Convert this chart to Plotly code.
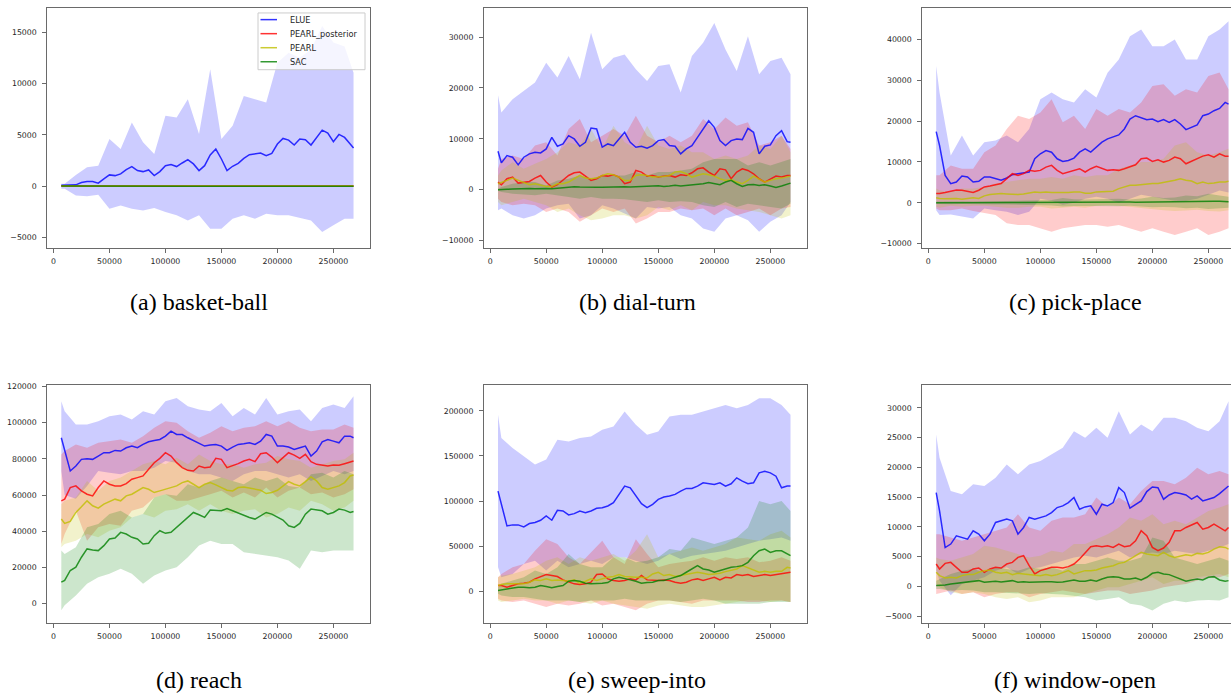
import plotly.graph_objects as go

W, H = 1231, 693

# ---------------------------------------------------------------- x grids
X_MEAN = [7000, 10000, 15000, 20000, 25000, 30000, 35000, 40000, 45000, 50000,
          55000, 60000, 65000, 70000, 75000, 80000, 85000, 90000, 95000, 100000,
          105000, 110000, 115000, 120000, 125000, 130000, 135000, 140000, 145000, 150000,
          155000, 160000, 165000, 170000, 175000, 180000, 185000, 190000, 195000, 200000,
          205000, 210000, 215000, 220000, 225000, 230000, 235000, 240000, 245000, 250000,
          255000, 260000, 265000, 268000]
X_BAND = [7000, 10000, 20000, 30000, 40000, 50000, 60000,
          70000, 80000, 90000, 100000, 110000, 120000, 130000,
          140000, 150000, 160000, 170000, 180000, 190000, 200000,
          210000, 220000, 230000, 240000, 250000, 260000, 268000]

X_TICKS = [0, 50000, 100000, 150000, 200000, 250000]

# ---------------------------------------------------------------- (a) basket-ball
A_ELUE = [100, 100, 60, 130, 360, 450, 450, 290, 710, 1100,
          1030, 1200, 1620, 1910, 1520, 1420, 1580, 1030, 1420, 2000,
          2100, 1910, 2260, 2590, 2170, 1520, 2000, 3040, 3620, 2650,
          1520, 1940, 2230, 2710, 3070, 3130, 3230, 2970, 3200, 4100,
          4650, 4490, 4010, 4590, 4520, 4010, 4750, 5460, 5170, 4330,
          5040, 4750, 4100, 3720]
A_ELUE_HI = [230, 230, 1100, 1840, 2000, 4590, 3620, 6200, 4270, 3130, 6850, 6690, 8470, 5070,
             11380, 4590, 5880, 8790, 8470, 8150, 12020, 13000, 12500, 13300, 15600, 14000, 13600, 11050]
A_ELUE_LO = [-260, -260, -900, -970, -840, -2200, -1870, -2200, -2360, -2130, -2520, -2840, -3330, -2840,
             -4140, -4140, -3170, -2840, -3170, -2680, -2840, -2840, -3100, -3330, -4460, -3810, -3170, -3170]
A_POST = [30, 25, 20, 15, 20, 10, 15, 20, 10, 15, 20, 15, 10, 20,
          15, 10, 15, 20, 15, 10, 20, 15, 10, 15, 20, 15, 10, 15]
A_POST_HI = [110, 100, 90, 85, 95, 80, 90, 95, 85, 90, 100, 90, 85, 95,
             90, 80, 90, 95, 90, 85, 95, 90, 85, 90, 95, 90, 85, 90]
A_POST_LO = [-50, -55, -60, -55, -50, -60, -55, -50, -60, -55, -50, -55, -60, -50,
             -55, -60, -55, -50, -55, -60, -50, -55, -60, -55, -50, -55, -60, -55]
A_PEARL = [20, 15, 10, 12, 8, 10, 14, 9, 11, 10, 12, 8, 10, 13,
           9, 10, 12, 11, 9, 10, 8, 12, 10, 9, 11, 10, 12, 10]
A_PEARL_HI = [70, 65, 60, 62, 58, 60, 64, 59, 61, 60, 62, 58, 60, 63,
              59, 60, 62, 61, 59, 60, 58, 62, 60, 59, 61, 60, 62, 60]
A_PEARL_LO = [-30, -35, -40, -38, -42, -40, -36, -41, -39, -40, -38, -42, -40, -37,
              -41, -40, -38, -39, -41, -40, -42, -38, -40, -41, -39, -40, -38, -40]
A_SAC = [10, 8, 6, 5, 7, 6, 5, 8, 6, 5, 7, 6, 5, 6,
         7, 5, 6, 8, 6, 5, 6, 7, 5, 6, 5, 7, 6, 5]
A_SAC_HI = [60, 58, 56, 55, 57, 56, 55, 58, 56, 55, 57, 56, 55, 56,
            57, 55, 56, 58, 56, 55, 56, 57, 55, 56, 55, 57, 56, 55]
A_SAC_LO = [-40, -42, -44, -45, -43, -44, -45, -42, -44, -45, -43, -44, -45, -44,
            -43, -45, -44, -42, -44, -45, -44, -43, -45, -44, -45, -43, -44, -45]

# ---------------------------------------------------------------- (b) dial-turn
B_ELUE = [7560, 5280, 6700, 6390, 4890, 6390, 7040, 7370, 7240, 8020,
          10300, 8540, 9000, 10630, 9980, 8540, 9320, 12130, 11930, 8350,
          9000, 8670, 9980, 11280, 9320, 8350, 8540, 8150, 8670, 9650,
          9850, 8670, 8540, 7040, 8020, 8670, 10300, 12060, 13560, 12260,
          9650, 8670, 9650, 9980, 9850, 12060, 11280, 7040, 8540, 8800,
          10630, 11600, 9450, 9320]
B_POST = [1500, 980, 2150, 2480, 1300, 1500, 1630, 2280, 2800, 1500,
          520, 980, 1830, 2800, 3330, 3460, 2670, 1830, 2150, 2800,
          2670, 2930, 2480, 1170, 1500, 3780, 3460, 2670, 2800, 2480,
          2670, 2800, 2480, 2930, 2800, 3330, 4110, 4300, 3460, 2800,
          4110, 3910, 2150, 3460, 4110, 3780, 3130, 2150, 1500, 2150,
          2670, 2480, 2800, 2800]
B_PEARL = [1170, 1370, 1830, 2280, 1830, 1500, 980, 1170, 980, 650,
           650, 1170, 1170, 1500, 2150, 2800, 2280, 2150, 2280, 2800,
           3130, 2930, 2480, 1830, 1830, 2800, 2930, 2800, 2480, 2480,
           2610, 2800, 3460, 3590, 3130, 2480, 2800, 3130, 2930, 2670,
           2150, 1830, 2020, 1500, 1170, 1830, 2670, 2150, 1500, 1830,
           2150, 2280, 2480, 2670]
B_SAC = [0, 70, 70, 130, 200, 200, 260, 200, 260, 260,
         200, 330, 390, 520, 590, 520, 460, 390, 460, 460,
         520, 460, 520, 590, 520, 590, 720, 650, 720, 780,
         650, 720, 850, 720, 850, 910, 980, 1170, 1430, 1170,
         980, 1500, 1830, 1170, 650, 980, 1040, 850, 980, 720,
         460, 720, 1170, 1300]
B_ELUE_HI = [18580, 15190, 17800, 19430, 21060, 24970, 22040, 26280, 21710, 30840, 23670, 25950, 26600, 23670,
             21390, 24320, 24650, 19100, 26280, 28880, 32800, 27580, 23340, 30190, 22690, 25300, 25950, 22690]
B_ELUE_LO = [-4040, -3720, -5020, -5670, -5020, -3720, -3060, -2740, -5670, -5020, -3060, -3720, -4690, -5670,
             -3390, -3720, -3390, -5020, -5670, -7630, -8280, -5670, -5020, -6000, -8280, -6320, -5020, -2410]
B_POST_HI = [4110, 6060, 6720, 6060, 8670, 9320, 6720, 11930, 13890, 9320, 10630, 11930, 10630, 14540,
             10630, 9320, 10630, 9320, 10630, 13890, 11930, 14210, 12580, 13240, 8670, 9320, 10630, 8020]
B_POST_LO = [-1760, -2410, -3060, -2740, -3060, -4370, -3720, -4370, -6320, -5020, -3720, -4370, -3720, -6650,
             -5670, -4370, -4370, -3720, -4040, -3720, -5020, -3720, -5020, -4370, -3720, -5020, -3720, -3390]
B_PEARL_HI = [2800, 3780, 5410, 4110, 5090, 6060, 7370, 9320, 8670, 11930, 8020, 12580, 9320, 8020,
              12580, 8670, 8020, 8670, 7370, 7370, 6060, 6720, 6060, 6720, 8670, 8020, 10630, 7370]
B_PEARL_LO = [-2410, -3060, -2410, -1760, -2410, -3060, -4370, -3720, -5020, -6000, -5670, -5020, -5020, -5670,
              -5020, -3390, -4040, -3060, -4040, -2410, -3060, -3060, -3720, -4040, -4370, -5020, -5670, -5020]
B_SAC_HI = [200, 520, 1170, 1500, 1500, 850, 1830, 2150, 2800, 2150, 2800, 2800, 2800, 3460,
            2800, 3460, 3460, 3780, 4110, 5410, 6060, 6060, 6060, 4760, 5410, 4760, 5410, 6060]
B_SAC_LO = [-200, -460, -780, -980, -1110, -780, -1110, -1430, -1760, -1430, -1760, -1760, -1890, -2090,
            -2410, -2090, -2410, -2280, -2410, -3060, -3390, -2410, -3390, -2740, -3060, -3390, -3720, -2740]

# ---------------------------------------------------------------- (c) pick-place
C_ELUE = [17450, 14040, 6730, 4710, 5110, 6570, 6330, 5110, 5270, 6330,
          6330, 5920, 5520, 6090, 6900, 7140, 7380, 7550, 10790, 12010,
          12820, 12410, 10790, 10140, 10390, 10950, 12410, 13230, 12410, 13630,
          14850, 15660, 16230, 16630, 18090, 20530, 21340, 20930, 20370, 20530,
          19880, 20370, 19720, 20370, 19310, 17930, 18500, 19070, 21340, 21750,
          22560, 23120, 24590, 24180]
C_POST = [2270, 2270, 2520, 2840, 3160, 3080, 2840, 2520, 3080, 3890,
          4140, 4460, 4710, 5920, 7140, 6730, 7140, 7950, 7710, 7950,
          8760, 9170, 7950, 7140, 7550, 7950, 8360, 7550, 8360, 8930,
          8360, 7950, 8110, 7950, 8360, 8760, 9330, 10790, 10950, 10140,
          10550, 9980, 10390, 11200, 10790, 9570, 10140, 10790, 11440, 11770,
          11200, 12010, 11440, 11440]
C_PEARL = [1220, 1050, 970, 1050, 1050, 890, 1050, 1220, 1050, 1700,
           2030, 2190, 2270, 2190, 2030, 2030, 2190, 2520, 2680, 2520,
           2680, 2520, 2520, 2350, 2520, 2680, 2680, 2350, 2350, 2680,
           2680, 2680, 2840, 3490, 3890, 4300, 4300, 4460, 4710, 4710,
           4710, 4950, 5110, 5520, 5920, 5520, 5360, 4710, 5110, 4710,
           4870, 5110, 5110, 5270]
C_SAC = [0, 10, 20, 15, 25, 30, 20, 35, 40, 30,
         45, 50, 40, 55, 60, 50, 65, 70, 60, 75,
         80, 70, 90, 100, 85, 110, 120, 100, 130, 140,
         120, 150, 160, 140, 170, 180, 160, 190, 210, 230,
         200, 240, 260, 280, 300, 320, 350, 380, 420, 450,
         410, 360, 300, 260]
C_ELUE_HI = [33510, 27020, 11600, 16470, 11600, 14850, 15250, 16470, 14850, 18090, 25400, 27020, 25400, 24590,
             27830, 25800, 31890, 35130, 40810, 42440, 38380, 38380, 40000, 35130, 35130, 40810, 42440, 44460]
C_ELUE_LO = [-1790, -3000, -2840, -3410, -3810, -1380, -1790, -2190, -3000, -2190, 1000, 500, -500, 0,
             1000, 1500, 1000, 0, 1000, 2000, 1500, 1000, 500, 500, 1000, 2000, 3000, 2500]
C_POST_HI = [6730, 6730, 9170, 8360, 8360, 12410, 14040, 18090, 21300, 20530, 22150, 25400, 19720, 21340,
             18090, 22960, 21340, 22960, 22150, 24590, 28640, 29050, 26210, 27830, 27020, 31080, 31900, 27830]
C_POST_LO = [-1380, -1790, -1790, -1380, -2030, -2600, -3000, -5030, -5440, -5440, -6250, -7060, -6250, -5840,
             -5440, -5440, -5840, -5440, -6250, -7060, -6250, -7060, -7870, -7060, -6250, -7870, -7060, -6250]
C_PEARL_HI = [3490, 3080, 2680, 3490, 3490, 3890, 4710, 5110, 5520, 5920, 5920, 6330, 5920, 6730,
              6330, 6730, 6730, 8360, 9170, 9980, 9980, 10790, 14040, 14850, 12410, 11600, 12410, 13230]
C_PEARL_LO = [-970, -1220, -730, -970, -730, -730, -970, -1220, -1220, -970, -970, -1380, -1220, -970,
              -1220, -730, -570, -730, -900, -1200, -1500, -1800, -2000, -1900, -1700, -2000, -2100, -1800]
C_SAC_HI = [300, 320, 280, 310, 290, 330, 400, 420, 500, 480, 600, 700, 1200, 900,
            800, 850, 900, 1000, 800, 1050, 1500, 1200, 1300, 1800, 1600, 2200, 1800, 1500]
C_SAC_LO = [-300, -280, -320, -290, -310, -300, -380, -400, -450, -500, -550, -650, -900, -800,
            -750, -700, -800, -850, -700, -900, -1100, -1000, -1100, -1300, -1200, -1500, -1400, -1200]

# ---------------------------------------------------------------- (d) reach
D_ELUE = [91600, 84270, 73280, 76030, 79690, 80060, 79690, 81520, 83360, 83360,
          84640, 84270, 86100, 87020, 86100, 87940, 89400, 90130, 90680, 92520,
          95260, 93430, 93430, 91600, 90130, 88850, 87020, 87570, 87940, 87020,
          84640, 86470, 87940, 88300, 88850, 87940, 89770, 93430, 92520, 87020,
          87020, 86470, 85190, 86100, 87020, 81520, 84270, 89400, 90680, 89770,
          88850, 92520, 92520, 91600]
D_POST = [56790, 57710, 64120, 65040, 62290, 60460, 59540, 64120, 67780, 65950,
          65040, 65040, 66320, 68700, 69620, 70530, 74190, 77860, 80240, 83360,
          81520, 77860, 75110, 73640, 73280, 76030, 75110, 75480, 80240, 79690,
          75110, 76030, 77310, 78770, 79690, 78410, 82810, 83360, 80970, 77860,
          80610, 83360, 82070, 80240, 82440, 78410, 76940, 76580, 76030, 76580,
          76390, 77310, 78410, 78770]
D_PEARL = [46720, 44330, 45430, 50380, 53490, 56790, 54040, 52760, 54960, 56430,
           57710, 56790, 59540, 60460, 62290, 64120, 63200, 61370, 62290, 63200,
           64120, 65040, 66870, 67780, 65950, 64120, 65950, 66870, 65590, 64120,
           62650, 62290, 64120, 64480, 63760, 63200, 62650, 60820, 61370, 62650,
           65040, 67420, 65950, 65040, 67420, 69980, 67780, 64120, 63200, 64120,
           65040, 66870, 70530, 71080]
D_SAC = [11910, 12820, 18320, 20150, 25650, 30230, 29680, 29310, 32060, 35720,
         36270, 39390, 38470, 36640, 35720, 32980, 33340, 37560, 40300, 38840,
         39390, 42140, 44880, 47630, 50380, 49100, 47630, 51660, 51660, 51300,
         52580, 51300, 49830, 48550, 47630, 46720, 48550, 50380, 49460, 47630,
         46170, 43050, 42140, 44330, 49460, 52210, 51660, 51300, 49460, 50380,
         52210, 51660, 50380, 50930]
D_ELUE_HI = [111750, 106260, 98930, 98930, 100760, 103510, 104420, 101680, 106260, 104420, 111750, 113580, 109000, 107170,
             106260, 110830, 103510, 108090, 104420, 113580, 104420, 106260, 107170, 100760, 108090, 109920, 108090, 114500]
D_ELUE_LO = [73280, 60000, 58000, 65000, 73280, 72360, 71450, 73280, 73280, 75110, 78770, 77860, 73280, 71450,
             71450, 69620, 67780, 71450, 73280, 73280, 71450, 69620, 71450, 67780, 70530, 73280, 71450, 73280]
D_POST_HI = [82440, 84270, 87940, 86100, 88850, 89770, 90680, 88850, 92520, 97100, 100760, 99850, 95260, 91600,
             94350, 98010, 95260, 97100, 98010, 100760, 98010, 100760, 97100, 95260, 96180, 96180, 98930, 97100]
D_POST_LO = [32980, 38470, 51300, 34810, 42140, 43970, 43050, 51300, 53130, 58620, 60460, 56790, 56790, 58620,
             60460, 62290, 58620, 61370, 58620, 64120, 58620, 62290, 64120, 60460, 61370, 58620, 60460, 63200]
D_PEARL_HI = [54960, 56790, 58620, 67780, 62290, 67780, 69620, 73280, 76940, 78770, 76940, 80610, 76940, 82440,
              78770, 76940, 76940, 75110, 76940, 77860, 81520, 79690, 78770, 75110, 76940, 78770, 79690, 83360]
D_PEARL_LO = [31140, 32980, 34810, 38470, 36640, 40300, 42140, 47630, 49460, 47630, 51300, 52210, 54960, 51300,
              54960, 51300, 49460, 51300, 52210, 47630, 49460, 53130, 51300, 56790, 54960, 51300, 53130, 56790]
D_SAC_HI = [29310, 27480, 31140, 42140, 43970, 49460, 51300, 47630, 49460, 58620, 60460, 59540, 65950, 64120,
            67780, 69620, 67780, 65950, 69620, 67780, 69620, 65040, 64120, 71450, 72360, 69620, 73280, 71450]
D_SAC_LO = [-3660, -920, 4580, 10990, 14660, 16490, 19240, 16490, 10990, 15570, 18320, 20150, 25650, 32060,
            34810, 32980, 32980, 28400, 27480, 26560, 25650, 23820, 19240, 29310, 28400, 29310, 29310, 29310]

# ---------------------------------------------------------------- (e) sweep-into
E_ELUE = [111020, 96310, 72420, 73520, 73520, 71310, 74990, 76090, 78670, 83450,
          78670, 89690, 88960, 84550, 86020, 88960, 87120, 88960, 91900, 92630,
          94470, 98150, 107340, 116530, 114690, 105500, 97050, 92630, 96310, 101820,
          104400, 105500, 107340, 111020, 113960, 113960, 116530, 120210, 119100, 118370,
          120210, 116530, 119100, 125720, 122040, 119100, 120210, 131230, 133070, 131230,
          127560, 114690, 116530, 116530]
E_POST = [6250, 6250, 4410, 6250, 8090, 8820, 9930, 13600, 16170, 18380,
          17280, 16170, 12500, 9930, 8090, 7350, 8090, 9930, 18380, 19120,
          13600, 11760, 11030, 11760, 13600, 12500, 17280, 12500, 11760, 11760,
          12500, 11760, 9930, 8820, 9930, 12500, 13600, 11760, 13600, 15440,
          12500, 15440, 14700, 18380, 17280, 18380, 16170, 17280, 18380, 17280,
          18380, 19120, 20950, 20950]
E_PEARL = [6250, 7350, 8090, 8090, 8820, 8090, 9930, 12500, 11760, 13600,
           11760, 12500, 11760, 11030, 12500, 8820, 11030, 13600, 11760, 13600,
           15440, 16170, 18380, 16170, 15440, 15440, 15440, 14700, 19120, 20950,
           17280, 18380, 16170, 17280, 18380, 19850, 20950, 19850, 18380, 19120,
           19850, 21690, 22790, 24630, 28310, 25730, 22790, 20950, 22060, 20950,
           22060, 22060, 26470, 25730]
E_SAC = [740, 1470, 2570, 3680, 4410, 4410, 3680, 4410, 6250, 5150,
         3680, 5150, 6250, 11030, 11760, 11030, 8820, 8090, 8090, 8820,
         9560, 13600, 15440, 13600, 12500, 11030, 8820, 9560, 9930, 11760,
         11760, 13600, 15440, 17280, 20950, 24630, 28310, 24630, 23530, 20950,
         22790, 24630, 26470, 27200, 28310, 31980, 39330, 44850, 46690, 43010,
         44850, 44850, 41170, 39330]
E_ELUE_HI = [195560, 169830, 158800, 149610, 140420, 145940, 167990, 166150, 169830, 171670, 179020, 182700, 199240, 184530,
             173510, 177180, 193720, 195560, 195560, 199240, 202920, 206590, 202920, 206590, 213940, 213940, 206590, 195560]
E_ELUE_LO = [26470, 15440, 19120, 30140, 33820, 22790, 33820, 26470, 30140, 33820, 30140, 37500, 37500, 33820,
             30140, 33820, 41170, 35660, 39330, 41170, 43010, 44850, 48520, 52200, 55880, 57710, 59550, 55880]
E_POST_HI = [15440, 19120, 26470, 30140, 44850, 57710, 52200, 37500, 30140, 43010, 55880, 37500, 30140, 57710,
             41170, 26470, 30140, 31980, 33820, 37500, 33820, 37500, 35660, 37500, 31980, 33820, 37500, 33820]
E_POST_LO = [-8450, -10290, -12130, -10290, -13970, -17640, -13970, -15810, -13970, -10290, -15810, -13970, -17640, -21320,
             -13970, -10290, -10290, -12130, -13970, -10290, -9560, -10290, -10290, -12130, -12130, -10290, -10290, -12130]
E_PEARL_HI = [15440, 17280, 19120, 22790, 26470, 33820, 37500, 30140, 37500, 33820, 37500, 41170, 33820, 44850,
              63230, 37500, 41170, 44850, 48520, 44850, 48520, 52200, 59550, 57710, 55880, 63230, 66900, 59550]
E_PEARL_LO = [-10290, -12130, -10290, -8450, -10290, -10290, -13970, -10290, -12130, -13970, -10290, -13970, -15810, -17640,
              -19480, -15810, -13970, -15810, -17640, -17640, -15810, -13970, -12130, -10290, -10290, -12130, -10290, -12130]
E_SAC_HI = [4410, 8090, 11760, 15440, 22790, 19120, 26470, 41170, 30140, 26470, 26470, 37500, 37500, 31980,
            33820, 37500, 46690, 44850, 59550, 55880, 52200, 55880, 59550, 70580, 99990, 96310, 99990, 88960]
E_SAC_LO = [-2940, -4780, -6620, -6620, -8450, -10290, -10290, -10290, -12130, -10290, -10290, -10290, -8450, -10290,
            -10290, -10290, -10290, -12130, -10290, -8450, -10290, -13970, -13970, -13970, -13970, -12130, -12130, -12130]

# ---------------------------------------------------------------- (f) window-open
F_ELUE = [15760, 12680, 6500, 7100, 8490, 8210, 7930, 9330, 8770, 7650,
          8770, 10730, 11010, 11290, 11010, 8770, 9890, 11570, 11290, 11570,
          11840, 12400, 13240, 13520, 14080, 14920, 12960, 13350, 13520, 12120,
          13800, 13520, 14080, 16590, 15760, 13130, 13800, 14360, 15920, 16700,
          16590, 14640, 15360, 15760, 15590, 15360, 14640, 15200, 14360, 14640,
          14920, 15590, 16310, 16870]
F_POST = [3740, 2910, 3850, 4020, 3180, 2350, 2350, 2910, 3070, 2350,
          2910, 3180, 3070, 3740, 4020, 4860, 5140, 3460, 2070, 2630,
          2910, 3180, 3180, 3070, 3300, 3740, 4580, 5700, 6650, 6820,
          6650, 6820, 6540, 7100, 6650, 6820, 7650, 9330, 8490, 6540,
          5980, 6430, 7380, 9330, 9330, 9890, 10340, 10730, 9610, 9890,
          10450, 9890, 9330, 9890]
F_PEARL = [2350, 1790, 1400, 1510, 1400, 1790, 1960, 1960, 2350, 2630,
           2740, 2350, 2180, 2350, 1960, 2180, 2070, 1960, 1790, 1790,
           1960, 1790, 1960, 2350, 2630, 2070, 2350, 2630, 2630, 2740,
           3070, 3300, 3460, 3850, 4020, 4580, 5140, 5700, 5420, 5310,
           5140, 5700, 5140, 4860, 5140, 5310, 5140, 5530, 5420, 5700,
           6260, 6650, 6540, 6260]
F_SAC = [110, 110, 220, 390, 500, 670, 840, 950, 950, 670,
         780, 840, 730, 840, 950, 670, 780, 670, 730, 780,
         780, 780, 670, 730, 950, 1060, 840, 840, 1060, 840,
         1230, 1510, 1620, 1510, 1230, 1230, 1400, 1060, 1510, 2180,
         2350, 2070, 1960, 1620, 1230, 840, 1060, 1230, 1060, 1510,
         1620, 1060, 840, 950]
F_ELUE_HI = [25530, 21620, 16030, 15480, 17150, 16870, 18270, 20500, 18830, 20500, 21060, 22180, 23300, 26090,
             24970, 26650, 24970, 29440, 25530, 27210, 26090, 28330, 28330, 27770, 26650, 26090, 27770, 31120]
F_ELUE_LO = [2630, 950, -1500, 390, 950, 1510, 2630, 3180, 2070, 2910, 3180, 3740, 4300, 4860,
             5140, 4860, 5420, 5980, 4860, 5420, 5700, 5420, 5980, 5700, 5420, 5980, 6540, 7100]
F_POST_HI = [8770, 8770, 8210, 7650, 8210, 8770, 9330, 9890, 12120, 9890, 9330, 11010, 11570, 11570,
             12120, 14920, 13240, 14920, 13800, 16030, 17710, 17710, 17150, 18270, 19950, 18830, 19390, 18830]
F_POST_LO = [-1290, -1170, -730, -1290, -1010, -1840, -1290, -1010, -1010, -1840, -1290, -1010, -730, -1010,
             -1290, -1010, -730, -730, -1290, -1010, -730, -170, 110, 390, 950, 1510, 1510, 2070]
F_PEARL_HI = [4860, 4580, 4300, 4860, 5420, 6820, 6540, 5980, 5420, 4860, 5140, 5980, 5700, 7100,
              7100, 7930, 8770, 9890, 11570, 11010, 12120, 10450, 11010, 10450, 11570, 12680, 13240, 13800]
F_PEARL_LO = [390, -170, -1010, -1290, -1010, -1290, -1840, -2120, -1840, -2680, -2400, -1840, -1840, -1840,
              -1290, -730, -170, -170, 390, 950, 1510, 390, 950, 950, 1510, 1790, 2070, 1510]
F_SAC_HI = [950, 1230, 2070, 2630, 2910, 2350, 3180, 2910, 2630, 3180, 2910, 3180, 2630, 3740,
            3740, 4300, 4860, 4300, 4300, 4860, 8210, 7650, 4860, 4300, 3740, 4300, 4860, 4300]
F_SAC_LO = [-450, -450, -730, -620, -730, -1010, -1010, -1010, -1170, -1290, -1170, -1290, -1400, -1560,
            -1840, -2400, -2120, -1840, -2960, -3240, -4080, -2960, -2400, -2680, -2400, -2290, -2400, -1840]

# ---------------------------------------------------------------- styling
METHODS = ["ELUE", "PEARL_posterior", "PEARL", "SAC"]
RGB = {"ELUE": (0, 0, 255), "PEARL_posterior": (255, 0, 0),
       "PEARL": (191, 191, 0), "SAC": (0, 128, 0)}


def line_col(m):
    r, g, b = RGB[m]
    return f"rgba({r},{g},{b},0.8)"


def fill_col(m):
    r, g, b = RGB[m]
    return f"rgba({r},{g},{b},0.2)"


TICK_FONT = dict(family="DejaVu Sans", size=7.8, color="#262626")
FRAME = "#6a6a6a"

# panel geometry in pixels: (left, right, top, bottom)
COL_X = [(47.3, 370.0), (484.0, 807.0), (922.3, 1231.0)]
ROW_Y = [(5.0, 246.0), (383.3, 622.3)]

PANELS = [
    dict(caption="(a) basket-ball", col=0, row=0, yr=[-6010, 17350], yt=[-5000, 0, 5000, 10000, 15000],
         series=[("ELUE", X_MEAN, A_ELUE, X_BAND, A_ELUE_LO, A_ELUE_HI),
                 ("PEARL_posterior", X_BAND, A_POST, X_BAND, A_POST_LO, A_POST_HI),
                 ("PEARL", X_BAND, A_PEARL, X_BAND, A_PEARL_LO, A_PEARL_HI),
                 ("SAC", X_BAND, A_SAC, X_BAND, A_SAC_LO, A_SAC_HI)]),
    dict(caption="(b) dial-turn", col=1, row=0, yr=[-11450, 35730], yt=[-10000, 0, 10000, 20000, 30000],
         series=[("ELUE", X_MEAN, B_ELUE, X_BAND, B_ELUE_LO, B_ELUE_HI),
                 ("PEARL_posterior", X_MEAN, B_POST, X_BAND, B_POST_LO, B_POST_HI),
                 ("PEARL", X_MEAN, B_PEARL, X_BAND, B_PEARL_LO, B_PEARL_HI),
                 ("SAC", X_MEAN, B_SAC, X_BAND, B_SAC_LO, B_SAC_HI)]),
    dict(caption="(c) pick-place", col=2, row=0, yr=[-11050, 47730], yt=[-10000, 0, 10000, 20000, 30000, 40000],
         series=[("ELUE", X_MEAN, C_ELUE, X_BAND, C_ELUE_LO, C_ELUE_HI),
                 ("PEARL_posterior", X_MEAN, C_POST, X_BAND, C_POST_LO, C_POST_HI),
                 ("PEARL", X_MEAN, C_PEARL, X_BAND, C_PEARL_LO, C_PEARL_HI),
                 ("SAC", X_MEAN, C_SAC, X_BAND, C_SAC_LO, C_SAC_HI)]),
    dict(caption="(d) reach", col=0, row=1, yr=[-10450, 120950],
         yt=[0, 20000, 40000, 60000, 80000, 100000, 120000],
         series=[("ELUE", X_MEAN, D_ELUE, X_BAND, D_ELUE_LO, D_ELUE_HI),
                 ("PEARL_posterior", X_MEAN, D_POST, X_BAND, D_POST_LO, D_POST_HI),
                 ("PEARL", X_MEAN, D_PEARL, X_BAND, D_PEARL_LO, D_PEARL_HI),
                 ("SAC", X_MEAN, D_SAC, X_BAND, D_SAC_LO, D_SAC_HI)]),
    dict(caption="(e) sweep-into", col=1, row=1, yr=[-34900, 229100], yt=[0, 50000, 100000, 150000, 200000],
         series=[("ELUE", X_MEAN, E_ELUE, X_BAND, E_ELUE_LO, E_ELUE_HI),
                 ("PEARL_posterior", X_MEAN, E_POST, X_BAND, E_POST_LO, E_POST_HI),
                 ("PEARL", X_MEAN, E_PEARL, X_BAND, E_PEARL_LO, E_PEARL_HI),
                 ("SAC", X_MEAN, E_SAC, X_BAND, E_SAC_LO, E_SAC_HI)]),
    dict(caption="(f) window-open", col=2, row=1, yr=[-6110, 33910],
         yt=[-5000, 0, 5000, 10000, 15000, 20000, 25000, 30000],
         series=[("ELUE", X_MEAN, F_ELUE, X_BAND, F_ELUE_LO, F_ELUE_HI),
                 ("PEARL_posterior", X_MEAN, F_POST, X_BAND, F_POST_LO, F_POST_HI),
                 ("PEARL", X_MEAN, F_PEARL, X_BAND, F_PEARL_LO, F_PEARL_HI),
                 ("SAC", X_MEAN, F_SAC, X_BAND, F_SAC_LO, F_SAC_HI)]),
]

CAPTION_X = [199, 637, 1075]
CAPTION_Y = [300, 680]

fig = go.Figure()
layout = dict(width=W, height=H, margin=dict(l=0, r=0, t=0, b=0),
              paper_bgcolor="white", plot_bgcolor="white", showlegend=False)
annotations = []
shapes = []

for i, p in enumerate(PANELS):
    k = "" if i == 0 else str(i + 1)
    xa, ya = "x" + k, "y" + k
    (x0, x1), (y0, y1) = COL_X[p["col"]], ROW_Y[p["row"]]
    clipped = p["col"] == 2
    xr = [-5400, 270200] if clipped else [-5500, 282700]

    # shaded bands first, then the mean curves on top
    for m, xm, ym, xb, lo, hi in p["series"]:
        fig.add_trace(go.Scatter(x=xb + xb[::-1], y=hi + lo[::-1], mode="lines",
                                 fill="toself", fillcolor=fill_col(m), line=dict(width=0),
                                 hoverinfo="skip", xaxis=xa, yaxis=ya))
    for m, xm, ym, xb, lo, hi in p["series"]:
        fig.add_trace(go.Scatter(x=xm, y=ym, mode="lines", name=m,
                                 line=dict(color=line_col(m), width=1.5),
                                 xaxis=xa, yaxis=ya))

    layout["xaxis" + k] = dict(domain=[x0 / W, x1 / W], range=xr, anchor=ya,
                               tickvals=X_TICKS, tickformat="d", ticks="outside", ticklen=4,
                               tickcolor=FRAME, tickfont=TICK_FONT, ticklabelstandoff=2,
                               showline=True, linecolor=FRAME, linewidth=1, mirror=True,
                               showgrid=False, zeroline=False, fixedrange=True)
    layout["yaxis" + k] = dict(domain=[1 - y1 / H, 1 - y0 / H], range=p["yr"], anchor=xa,
                               tickvals=p["yt"], tickformat="d", ticks="outside", ticklen=4,
                               tickcolor=FRAME, tickfont=TICK_FONT, ticklabelstandoff=4,
                               showline=True, linecolor=FRAME, linewidth=1, mirror=not clipped,
                               showgrid=False, zeroline=False, fixedrange=True)

    annotations.append(dict(text=p["caption"], x=CAPTION_X[p["col"]] / W, y=1 - CAPTION_Y[p["row"]] / H,
                            xref="paper", yref="paper", xanchor="center", yanchor="middle",
                            showarrow=False,
                            font=dict(family="Liberation Serif", size=24, color="black")))

# legend box of panel (a)
LEG_LEFT, LEG_RIGHT, LEG_TOP, LEG_BOTTOM = 258, 365, 10, 67
shapes.append(dict(type="rect", xref="paper", yref="paper",
                   x0=LEG_LEFT / W, x1=LEG_RIGHT / W, y0=1 - LEG_BOTTOM / H, y1=1 - LEG_TOP / H,
                   line=dict(color="#cccccc", width=1), fillcolor="rgba(255,255,255,0.8)", layer="above"))
for j, m in enumerate(METHODS):
    yc = 16.7 + 14.1 * j
    shapes.append(dict(type="line", xref="paper", yref="paper",
                       x0=260.5 / W, x1=277 / W, y0=1 - yc / H, y1=1 - yc / H,
                       line=dict(color=line_col(m), width=1.5), layer="above"))
    annotations.append(dict(text=m, x=287.5 / W, y=1 - yc / H, xref="paper", yref="paper",
                            xanchor="left", yanchor="middle", showarrow=False,
                            font=dict(family="DejaVu Sans", size=8.2, color="#262626")))

layout["annotations"] = annotations
layout["shapes"] = shapes
fig.update_layout(**layout)

fig.write_html("out.html", config={"displayModeBar": False})
